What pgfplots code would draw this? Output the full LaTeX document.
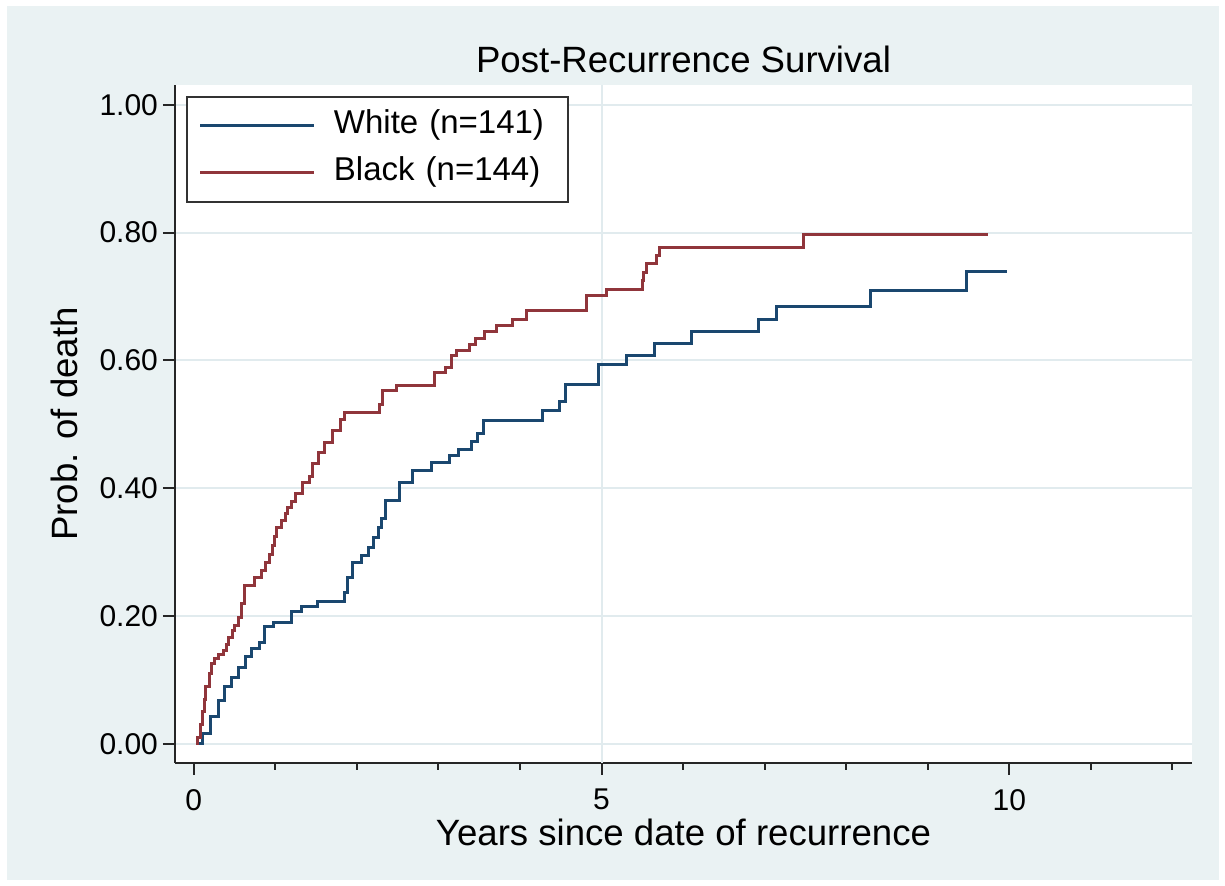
\documentclass[border=0pt]{standalone}
\usepackage{pgfplots}
\pgfplotsset{compat=1.18}
\usepackage{fontspec}
\setmainfont{Liberation Sans}
\definecolor{navy}{HTML}{1A476F}
\definecolor{maroon}{HTML}{90353B}
\definecolor{bgblue}{HTML}{EAF2F3}
\definecolor{gridc}{HTML}{E1EBEE}
\begin{document}
\begin{tikzpicture}
\useasboundingbox (0,0) rectangle (612.5pt,443pt);
\fill[white] (0,0) rectangle (612.5pt,443pt);
\fill[bgblue] (3.5pt,3pt) rectangle (609.5pt,440pt);
\begin{axis}[
  at={(87.5pt,61.5pt)}, anchor=south west,
  scale only axis, width=508.5pt, height=339pt,
  xmin=-0.23, xmax=12.24, ymin=-0.03, ymax=1.031,
  axis background/.style={fill=white},
  axis x line*=bottom, axis y line*=left,
  axis line style={line width=1pt, black!85, -},
  tick align=outside,
  xtick={0,5,10}, minor xtick={1,2,3,4,6,7,8,9,11,12},
  ytick={0,0.2,0.4,0.6,0.8,1},
  major tick length=6pt, minor tick length=3.5pt,
  every tick/.style={line width=1pt, black!85},
  ymajorgrids, grid style={gridc, line width=1pt},
  ticklabel style={font=\fontsize{15}{17}\selectfont},
  xticklabel style={yshift=-3.5pt},
  yticklabel style={xshift=1pt, /pgf/number format/.cd, fixed, fixed zerofill, precision=2},
  /pgf/number format/assume math mode=true,
  every axis title shift=0pt,
  title={Post-Recurrence Survival},
  title style={at={(axis description cs:0.5,1.019)}, anchor=base, font=\fontsize{18.3}{20}\selectfont},
  xlabel={Years since date of recurrence},
  xlabel style={at={(axis description cs:0.5,-0.122)}, anchor=base, font=\fontsize{18.3}{20}\selectfont},
  ylabel={Prob. of death},
  ylabel style={at={(axis description cs:-0.0954,0.5)}, anchor=base, rotate=0, font=\fontsize{18.3}{20}\selectfont},
  legend style={at={(axis description cs:0.0108,0.9838)}, anchor=north west, draw=black!80, line width=1pt, fill=white,
    inner xsep=6pt, inner ysep=6.5pt, row sep=7.5pt,
    nodes={inner sep=0pt, text height=12pt, text depth=4pt, font=\fontsize{16.5}{18}\selectfont},
    /tikz/every odd column/.style={column sep=9pt},
    /tikz/every even column/.style={text width=111pt}},
  legend cell align=left,
  legend image code/.code={\draw[#1] (0pt,0pt) -- (57pt,0pt);},
]
\draw[gridc, line width=1pt] (axis cs:5,-0.03) -- (axis cs:5,1.031);
\addplot[const plot, navy, line width=1.5pt] coordinates {
(0.07,0) (0.11,0.016) (0.21,0.042) (0.30,0.068) (0.38,0.089) (0.46,0.104)
(0.55,0.120) (0.63,0.136) (0.71,0.149) (0.80,0.159) (0.87,0.183) (0.98,0.190)
(1.20,0.207) (1.32,0.215) (1.52,0.223) (1.85,0.237) (1.88,0.260) (1.95,0.283)
(2.06,0.294) (2.14,0.307) (2.21,0.323) (2.26,0.339) (2.30,0.352) (2.35,0.380)
(2.52,0.409) (2.68,0.427) (2.91,0.440) (3.13,0.451) (3.24,0.461) (3.40,0.473)
(3.48,0.486) (3.55,0.506) (4.28,0.521) (4.49,0.536) (4.56,0.562) (4.96,0.594)
(5.31,0.607) (5.65,0.626) (6.10,0.645) (6.92,0.664) (7.15,0.684) (8.30,0.710)
(9.48,0.739) (9.97,0.739)
};
\addlegendentry{White (n=141)}
\addplot[const plot, maroon, line width=1.5pt] coordinates {
(0.03,0) (0.05,0.01) (0.08,0.03) (0.11,0.05) (0.13,0.07) (0.15,0.089)
(0.19,0.11) (0.22,0.125) (0.26,0.133) (0.30,0.14) (0.36,0.146) (0.40,0.155)
(0.42,0.167) (0.47,0.177) (0.50,0.185) (0.545,0.198) (0.58,0.22) (0.62,0.248)
(0.74,0.261) (0.83,0.271) (0.88,0.284) (0.93,0.297) (0.96,0.31) (0.99,0.325)
(1.02,0.339) (1.07,0.349) (1.12,0.360) (1.15,0.370) (1.20,0.379) (1.25,0.391)
(1.33,0.409) (1.42,0.419) (1.46,0.438) (1.53,0.456) (1.60,0.472) (1.70,0.490)
(1.80,0.508) (1.85,0.518) (2.28,0.531) (2.32,0.553) (2.48,0.560) (2.95,0.581)
(3.09,0.589) (3.16,0.607) (3.22,0.615) (3.38,0.625) (3.45,0.634) (3.57,0.646)
(3.71,0.654) (3.91,0.664) (4.08,0.678) (4.81,0.701) (5.06,0.711) (5.50,0.725)
(5.52,0.738) (5.55,0.751) (5.67,0.764) (5.71,0.777) (7.48,0.797) (9.74,0.797)
};
\addlegendentry{Black (n=144)}
\end{axis}
\end{tikzpicture}
\end{document}
